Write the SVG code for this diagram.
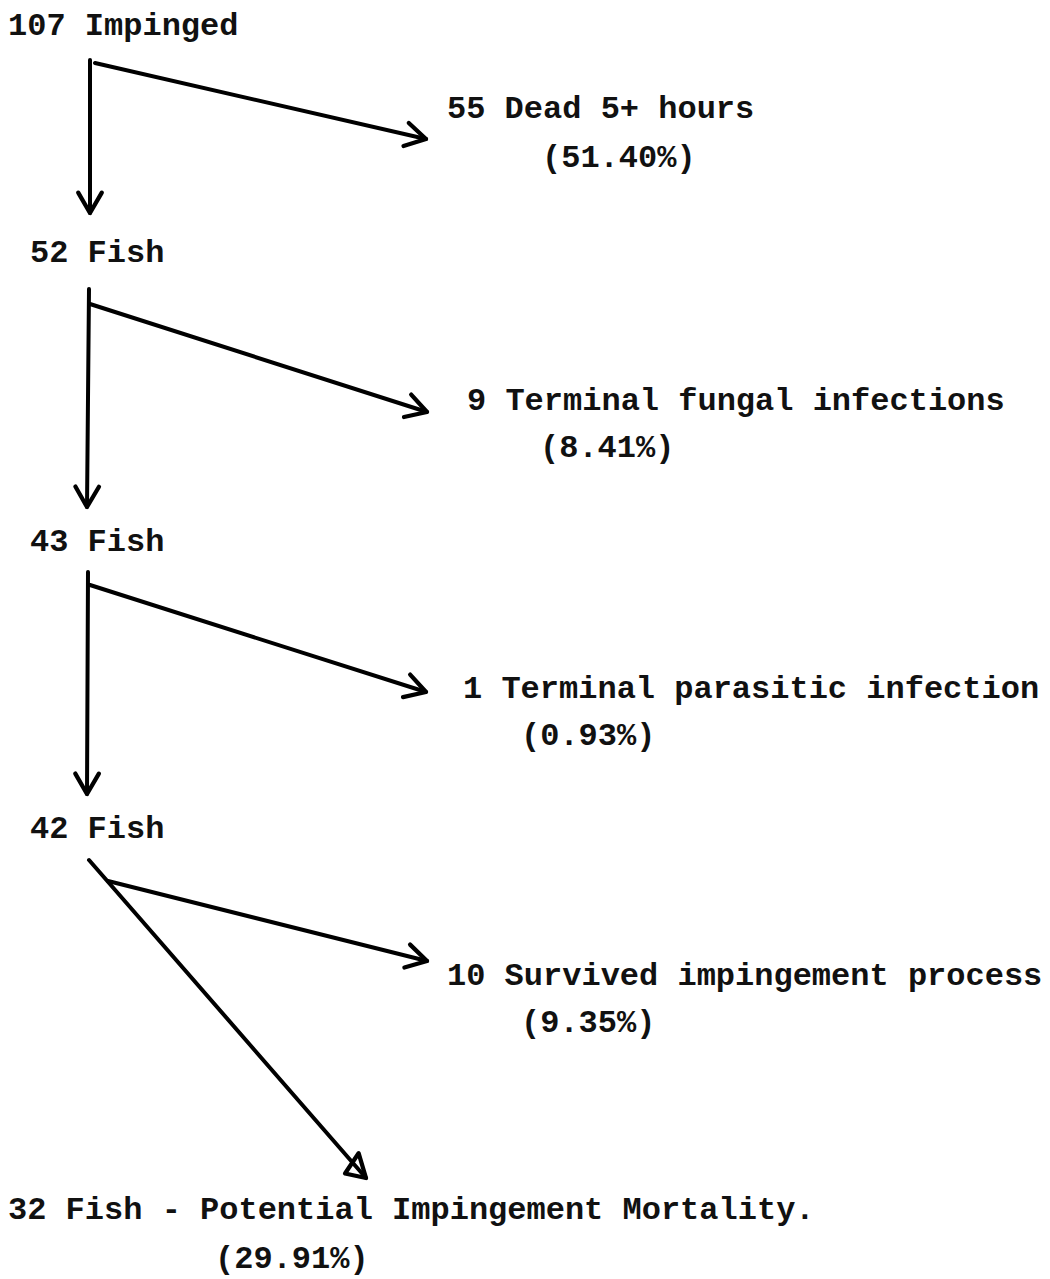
<svg xmlns="http://www.w3.org/2000/svg" width="1050" height="1279" viewBox="0 0 1050 1279">
  <style>
    .t { font-family: "Liberation Mono", "Courier New", monospace; font-size: 32px; font-weight: bold; fill: #111; }
    .ln { stroke: #000; stroke-width: 4; fill: none; stroke-linecap: round; }
  </style>
  <defs>
    <marker id="vee" markerUnits="userSpaceOnUse" markerWidth="30" markerHeight="30" refX="0" refY="0" viewBox="-22 -14 26 28" orient="auto" overflow="visible">
      <path d="M-19,-11 L0,0 L-19,11" fill="none" stroke="#000" stroke-width="4" stroke-linecap="round" stroke-linejoin="round"/>
    </marker>
    <marker id="tri" markerUnits="userSpaceOnUse" markerWidth="30" markerHeight="30" refX="0" refY="0" viewBox="-22 -14 26 28" orient="auto" overflow="visible">
      <path d="M0,0 L-22,-10 L-16,12 Z" fill="none" stroke="#000" stroke-width="4" stroke-linejoin="round"/>
    </marker>
  </defs>
  <rect width="1050" height="1279" fill="#fff"/>

  <g id="n-impinged"><text class="t" x="8" y="35">107 Impinged</text></g>
  <g id="n-dead"><text class="t" x="447" y="118">55 Dead 5+ hours</text><text class="t" x="542" y="167">(51.40%)</text></g>
  <g id="n-fish52"><text class="t" x="30" y="262">52 Fish</text></g>
  <g id="n-fungal"><text class="t" x="467" y="410">9 Terminal fungal infections</text><text class="t" x="540" y="457">(8.41%)</text></g>
  <g id="n-fish43"><text class="t" x="30" y="551">43 Fish</text></g>
  <g id="n-parasitic"><text class="t" x="463" y="698">1 Terminal parasitic infection</text><text class="t" x="521" y="745">(0.93%)</text></g>
  <g id="n-fish42"><text class="t" x="30" y="838">42 Fish</text></g>
  <g id="n-survived"><text class="t" x="447" y="985">10 Survived impingement process</text><text class="t" x="521" y="1032">(9.35%)</text></g>
  <g id="n-mortality"><text class="t" x="8" y="1219">32 Fish - Potential Impingement Mortality.</text><text class="t" x="215" y="1268">(29.91%)</text></g>

  <g id="connectors">
    <line class="ln" x1="90" y1="60" x2="90" y2="213" marker-end="url(#vee)"/>
    <line class="ln" x1="95" y1="63" x2="426" y2="139" marker-end="url(#vee)"/>
    <line class="ln" x1="89" y1="289" x2="87" y2="507" marker-end="url(#vee)"/>
    <line class="ln" x1="90" y1="304" x2="427" y2="412" marker-end="url(#vee)"/>
    <line class="ln" x1="88" y1="572" x2="87" y2="794" marker-end="url(#vee)"/>
    <line class="ln" x1="90" y1="585" x2="426" y2="692" marker-end="url(#vee)"/>
    <line class="ln" x1="108" y1="881" x2="427" y2="961" marker-end="url(#vee)"/>
    <line class="ln" x1="89" y1="860" x2="366" y2="1178" marker-end="url(#tri)"/>
  </g>
</svg>
